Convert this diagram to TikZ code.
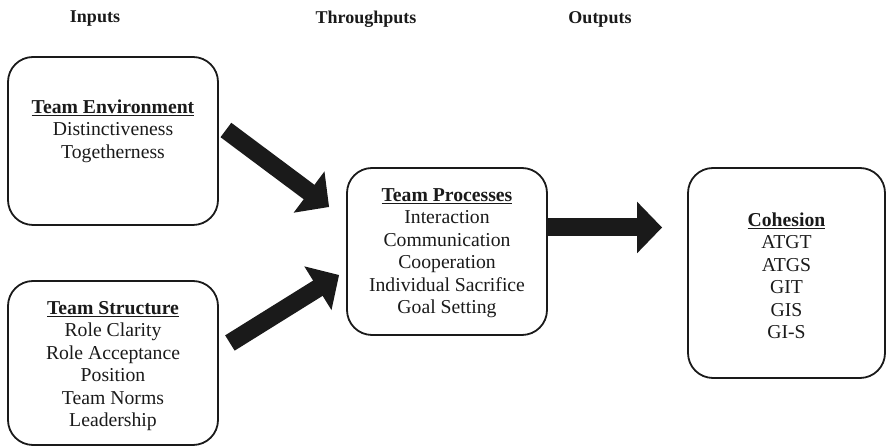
\documentclass[tikz,border=0pt]{standalone}
\usepackage{fontspec}
\setmainfont{Liberation Serif}
\usetikzlibrary{arrows.meta,calc}
\definecolor{ink}{HTML}{1A1A1A}
% bold heading with a heavier underline than \underline gives at this scale
\newcommand\titleul[1]{\setbox0\hbox{\bfseries #1}\rlap{\rule[-3pt]{\wd0}{1.4pt}}\box0}
\begin{document}
\begin{tikzpicture}[x=1pt,y=1pt,
  box/.style={draw=ink, line width=1.8pt, rounded corners=25pt, inner sep=0pt},
  body/.style={align=center, text=ink, font=\fontsize{19.7pt}{22.5pt}\selectfont, inner sep=0pt},
  head/.style={text=ink, font=\fontsize{18pt}{20pt}\selectfont\bfseries, inner sep=0pt},
  bigarrow/.style={draw=ink, line width=18pt, -{Triangle[length=25pt,width=50pt,fill=ink]}}]
\useasboundingbox (0,0) rectangle (887,447);

% column headings
\node[head] (hin)  at (95,428)  {Inputs};
\node[head] (hthr) at (366,428) {Throughputs};
\node[head] (hout) at (600,428) {Outputs};

% boxes
\node[box, minimum width=210pt, minimum height=168pt] (env)    at (113,306)   {};
\node[box, minimum width=210pt, minimum height=164pt] (struct) at (113,84)    {};
\node[box, minimum width=200pt, minimum height=167pt] (proc)   at (447,195.5) {};
\node[box, minimum width=197pt, minimum height=210pt] (coh)    at (786.5,174) {};

% box contents
\node[body] (envtxt) at ($(env)+(0,10)$)
  {\titleul{Team Environment}\\Distinctiveness\\Togetherness};
\node[body] (structtxt) at ($(struct)+(0,-3)$)
  {\titleul{Team Structure}\\Role Clarity\\Role Acceptance\\Position\\Team Norms\\Leadership};
\node[body] (proctxt) at ($(proc)+(0,-1.5)$)
  {\titleul{Team Processes}\\Interaction\\Communication\\Cooperation\\Individual Sacrifice\\Goal Setting};
\node[body] (cohtxt) at ($(coh)+(0,-3)$)
  {\titleul{Cohesion}\\ATGT\\ATGS\\GIT\\GIS\\GI-S};

% block arrows
\draw[bigarrow] ($(env.east)+(7,11)$) -- ($(proc.west)+(-17,44.5)$);
\draw[bigarrow] ($(struct.east)+(11,20)$) -- ($(proc.west)+(-7,-23.5)$);
\draw[bigarrow] ($(proc.east)+(0,24)$) -- ($(coh.west)+(-25,45.5)$);
\end{tikzpicture}
\end{document}
